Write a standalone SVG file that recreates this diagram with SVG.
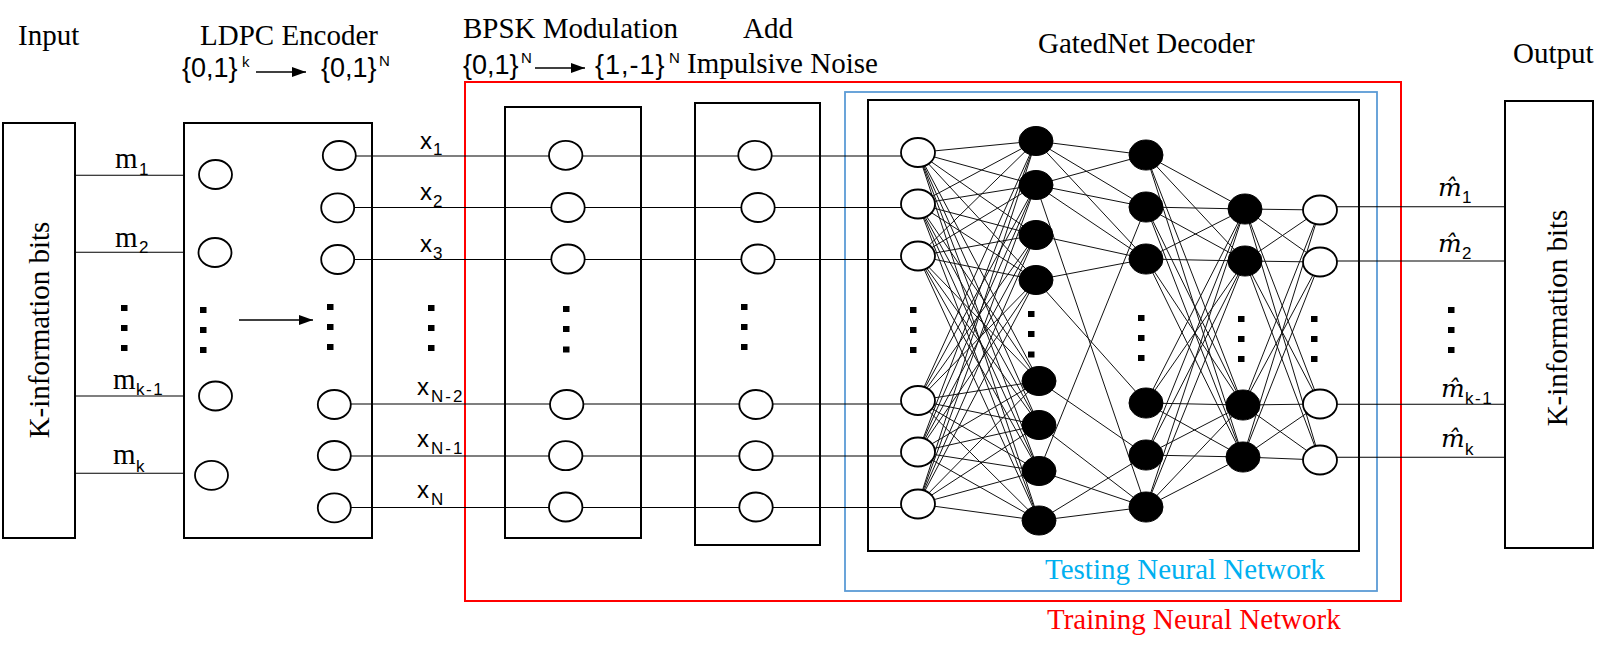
<svg xmlns="http://www.w3.org/2000/svg" width="1611" height="656" viewBox="0 0 1611 656">
<style>
.box{fill:none;stroke:#000;stroke-width:2}
.c{fill:#fff;stroke:#000;stroke-width:1.8}
.b{fill:#000;stroke:#000;stroke-width:1}
.ln{fill:none;stroke:#000;stroke-width:1.1}
.nn{fill:none;stroke:#111;stroke-width:1}
.dot{fill:#000}
.serif{font-family:"Liberation Serif","Times New Roman",serif;fill:#000}
.sans{font-family:"Liberation Sans",Arial,sans-serif;fill:#000}
.h{font-size:29px}
.sb{font-size:17px}
.hat{font-family:"DejaVu Serif","Liberation Serif",serif;font-style:italic;font-size:25px}
</style>
<defs>
<marker id="ah" markerWidth="14" markerHeight="10" refX="14" refY="5" orient="auto" markerUnits="userSpaceOnUse"><path d="M0,0L14,5L0,10Z" fill="#000"/></marker>
</defs>
<rect width="1611" height="656" fill="#fff"/>

<!-- region frames -->
<g id="training-region">
<rect x="465" y="82" width="936" height="519" fill="none" stroke="#FF0000" stroke-width="2"/>
<text class="serif" x="1047" y="629" font-size="29" style="fill:#FF0000">Training Neural Network</text>
</g>
<g id="testing-region">
<rect x="845" y="92" width="532" height="499" fill="none" stroke="#5B9BD5" stroke-width="1.8"/>
<text class="serif" x="1045" y="579" font-size="29" style="fill:#00B0F0">Testing Neural Network</text>
</g>

<!-- headers -->
<g id="headers">
<text class="serif h" x="18" y="45">Input</text>
<text class="serif h" x="200" y="45">LDPC Encoder</text>
<text class="sans" x="182" y="77" font-size="27">{0,1}</text>
<text class="sans" x="242" y="67" font-size="15">k</text>
<line x1="256" y1="72" x2="306" y2="72" stroke="#000" stroke-width="1.3" marker-end="url(#ah)"/>
<text class="sans" x="321" y="77" font-size="27">{0,1}</text>
<text class="sans" x="379" y="66" font-size="15">N</text>
<text class="serif h" x="463" y="38">BPSK Modulation</text>
<text class="serif h" x="743" y="38">Add</text>
<text class="sans" x="463" y="74" font-size="27">{0,1}</text>
<text class="sans" x="521" y="63" font-size="15">N</text>
<line x1="535" y1="68" x2="585" y2="68" stroke="#000" stroke-width="1.3" marker-end="url(#ah)"/>
<text class="sans" x="595" y="74" font-size="27" letter-spacing="1">{1,-1}</text>
<text class="sans" x="669" y="63" font-size="15">N</text>
<text class="serif h" x="687" y="73">Impulsive Noise</text>
<text class="serif h" x="1038" y="53">GatedNet Decoder</text>
<text class="serif h" x="1513" y="63">Output</text>
</g>

<!-- connectors -->
<g id="connectors">
<path class="ln" d="M75 175.3H184M75 252.3H184M75 396H184M75 473.3H184"/>
<path class="ln" d="M339 156H918M338 207.5H918M339 259.5H918M334 404H918M334 456H918M334 507.5H918"/>
<path class="ln" d="M1320 206.7H1505M1320 261H1505M1320 404.3H1505M1320 457.3H1505"/>
<line x1="239" y1="320" x2="313" y2="320" stroke="#000" stroke-width="1.3" marker-end="url(#ah)"/>
<path class="nn" d="
M918 152.5L1036 141M918 152.5L1036 185M918 152.5L1036 235M918 152.5L1036 280M918 152.5L1039 381M918 152.5L1039 425M918 152.5L1039 471M918 152.5L1039 520.5
M918 204L1036 141M918 204L1036 185M918 204L1036 235M918 204L1036 280M918 204L1039 381M918 204L1039 425M918 204L1039 471M918 204L1039 520.5
M918 256L1036 141M918 256L1036 185M918 256L1036 235M918 256L1036 280M918 256L1039 381M918 256L1039 425M918 256L1039 471M918 256L1039 520.5
M918 400.5L1036 141M918 400.5L1036 185M918 400.5L1036 235M918 400.5L1036 280M918 400.5L1039 381M918 400.5L1039 425M918 400.5L1039 471M918 400.5L1039 520.5
M918 452L1036 141M918 452L1036 185M918 452L1036 235M918 452L1036 280M918 452L1039 381M918 452L1039 425M918 452L1039 471M918 452L1039 520.5
M918 504L1036 141M918 504L1036 185M918 504L1036 235M918 504L1036 280M918 504L1039 381M918 504L1039 425M918 504L1039 471M918 504L1039 520.5
M1036 141L1146 155M1036 141L1146 207M1036 141L1146 259
M1036 185L1146 155M1036 185L1146 207M1036 185L1146 259M1036 185L1146 507
M1036 235L1146 259
M1036 280L1146 259M1036 280L1146 403
M1039 381L1146 455
M1039 425L1146 507
M1039 471L1146 207M1039 471L1146 507
M1039 520.5L1146 455M1039 520.5L1146 507
M1146 155L1245 209M1146 155L1245 261M1146 155L1243 405M1146 155L1243 457
M1146 207L1245 209M1146 207L1245 261M1146 207L1243 405M1146 207L1243 457
M1146 259L1245 209M1146 259L1245 261M1146 259L1243 405M1146 259L1243 457
M1146 403L1245 209M1146 403L1245 261M1146 403L1243 405M1146 403L1243 457
M1146 455L1245 209M1146 455L1245 261M1146 455L1243 405M1146 455L1243 457
M1146 507L1245 209M1146 507L1245 261M1146 507L1243 405M1146 507L1243 457
M1245 209L1320 210M1245 209L1320 262M1245 209L1320 404M1245 209L1320 460
M1245 261L1320 210M1245 261L1320 262M1245 261L1320 404M1245 261L1320 460
M1243 405L1320 210M1243 405L1320 262M1243 405L1320 404M1243 405L1320 460
M1243 457L1320 210M1243 457L1320 262M1243 457L1320 404M1243 457L1320 460"/>
</g>

<!-- input box -->
<g id="input-box">
<rect class="box" x="3" y="123" width="72" height="415"/>
<text class="serif h" font-family="Liberation Serif, serif" transform="translate(49,330) rotate(-90)" text-anchor="middle">K-information bits</text>
<text class="serif" x="115" y="168" font-size="29">m</text><text class="sans sb" x="139" y="175">1</text>
<text class="serif" x="115" y="246.5" font-size="29">m</text><text class="sans sb" x="139" y="253">2</text>
<rect class="dot" x="121" y="305" width="6.5" height="6"/>
<rect class="dot" x="121" y="325" width="6.5" height="6"/>
<rect class="dot" x="121" y="345" width="6.5" height="6"/>
<text class="serif" x="113" y="388.5" font-size="29">m</text><text class="sans sb" x="136" y="395" letter-spacing="1.5">k-1</text>
<text class="serif" x="113" y="464" font-size="29">m</text><text class="sans sb" x="136" y="471.5">k</text>
</g>

<!-- LDPC encoder -->
<g id="ldpc-encoder">
<rect class="box" x="184" y="123" width="188" height="415"/>
<ellipse class="c" cx="215.5" cy="174.5" rx="16.5" ry="14.5"/>
<ellipse class="c" cx="215" cy="252.5" rx="16.5" ry="14.5"/>
<ellipse class="c" cx="215.5" cy="396" rx="16.5" ry="14.5"/>
<ellipse class="c" cx="211.5" cy="475.3" rx="16.5" ry="14.5"/>
<rect class="dot" x="200" y="307" width="6.5" height="6"/>
<rect class="dot" x="200" y="327" width="6.5" height="6"/>
<rect class="dot" x="200" y="347" width="6.5" height="6"/>
<ellipse class="c" cx="339.3" cy="155.5" rx="16.5" ry="14.5"/>
<ellipse class="c" cx="337.7" cy="207.8" rx="16.5" ry="14.5"/>
<ellipse class="c" cx="337.7" cy="259.5" rx="16.5" ry="14.5"/>
<ellipse class="c" cx="334.3" cy="404.5" rx="16.5" ry="14.5"/>
<ellipse class="c" cx="334.3" cy="455.5" rx="16.5" ry="14.5"/>
<ellipse class="c" cx="334.3" cy="507.8" rx="16.5" ry="14.5"/>
<rect class="dot" x="327" y="304" width="6.5" height="6"/>
<rect class="dot" x="327" y="324" width="6.5" height="6"/>
<rect class="dot" x="327" y="344" width="6.5" height="6"/>
</g>

<!-- codeword labels -->
<g id="codeword-labels">
<text class="sans" x="420" y="148.5" font-size="24">x</text><text class="sans sb" x="433" y="155">1</text>
<text class="sans" x="420" y="200" font-size="24">x</text><text class="sans sb" x="433" y="207">2</text>
<text class="sans" x="420" y="251.5" font-size="24">x</text><text class="sans sb" x="433" y="258.5">3</text>
<rect class="dot" x="428" y="305" width="6.5" height="6"/>
<rect class="dot" x="428" y="325" width="6.5" height="6"/>
<rect class="dot" x="428" y="345" width="6.5" height="6"/>
<text class="sans" x="417" y="395" font-size="24">x</text><text class="sans sb" x="431" y="402" letter-spacing="2">N-2</text>
<text class="sans" x="417" y="447" font-size="24">x</text><text class="sans sb" x="431" y="454" letter-spacing="2">N-1</text>
<text class="sans" x="417" y="498" font-size="24">x</text><text class="sans sb" x="431" y="505">N</text>
</g>

<!-- BPSK modulation -->
<g id="bpsk-modulation">
<rect class="box" x="505" y="107" width="136" height="431"/>
<ellipse class="c" cx="565.7" cy="155.3" rx="16.7" ry="14.5"/>
<ellipse class="c" cx="568" cy="207.5" rx="16.7" ry="14.5"/>
<ellipse class="c" cx="568" cy="259" rx="16.7" ry="14.5"/>
<ellipse class="c" cx="566.7" cy="404.5" rx="16.7" ry="14.5"/>
<ellipse class="c" cx="565.7" cy="455.7" rx="16.7" ry="14.5"/>
<ellipse class="c" cx="565.7" cy="507" rx="16.7" ry="14.5"/>
<rect class="dot" x="563" y="306" width="6.5" height="6"/>
<rect class="dot" x="563" y="326" width="6.5" height="6"/>
<rect class="dot" x="563" y="346.5" width="6.5" height="6"/>
</g>

<!-- Add impulsive noise -->
<g id="add-noise">
<rect class="box" x="695" y="103" width="125" height="442"/>
<ellipse class="c" cx="755" cy="155.3" rx="16.7" ry="14.5"/>
<ellipse class="c" cx="758" cy="207.5" rx="16.7" ry="14.5"/>
<ellipse class="c" cx="758" cy="259" rx="16.7" ry="14.5"/>
<ellipse class="c" cx="756" cy="404.5" rx="16.7" ry="14.5"/>
<ellipse class="c" cx="756" cy="455.7" rx="16.7" ry="14.5"/>
<ellipse class="c" cx="756" cy="507" rx="16.7" ry="14.5"/>
<rect class="dot" x="741" y="304" width="6.5" height="6"/>
<rect class="dot" x="741" y="324" width="6.5" height="6"/>
<rect class="dot" x="741" y="344" width="6.5" height="6"/>
</g>

<!-- GatedNet decoder -->
<g id="gatednet-decoder">
<rect class="box" x="868" y="100" width="491" height="451"/>
<g id="layer1">
<ellipse class="c" cx="918" cy="152.5" rx="17" ry="14.5"/>
<ellipse class="c" cx="918" cy="204" rx="17" ry="14.5"/>
<ellipse class="c" cx="918" cy="256" rx="17" ry="14.5"/>
<ellipse class="c" cx="918" cy="400.5" rx="17" ry="14.5"/>
<ellipse class="c" cx="918" cy="452" rx="17" ry="14.5"/>
<ellipse class="c" cx="918" cy="504" rx="17" ry="14.5"/>
<rect class="dot" x="910" y="307" width="6.5" height="6"/>
<rect class="dot" x="910" y="327" width="6.5" height="6"/>
<rect class="dot" x="910" y="347" width="6.5" height="6"/>
</g>
<g id="layer2">
<ellipse class="b" cx="1036" cy="141" rx="17" ry="14.5"/>
<ellipse class="b" cx="1036" cy="185" rx="17" ry="14.5"/>
<ellipse class="b" cx="1036" cy="235" rx="17" ry="14.5"/>
<ellipse class="b" cx="1036" cy="280" rx="17" ry="14.5"/>
<ellipse class="b" cx="1039" cy="381" rx="17" ry="14.5"/>
<ellipse class="b" cx="1039" cy="425" rx="17" ry="14.5"/>
<ellipse class="b" cx="1039" cy="471" rx="17" ry="14.5"/>
<ellipse class="b" cx="1039" cy="520.5" rx="17" ry="14.5"/>
<rect class="dot" x="1028" y="311" width="6.5" height="6"/>
<rect class="dot" x="1028" y="331" width="6.5" height="6"/>
<rect class="dot" x="1028" y="351.5" width="6.5" height="6"/>
</g>
<g id="layer3">
<ellipse class="b" cx="1146" cy="155" rx="17" ry="15"/>
<ellipse class="b" cx="1146" cy="207" rx="17" ry="15"/>
<ellipse class="b" cx="1146" cy="259" rx="17" ry="15"/>
<ellipse class="b" cx="1146" cy="403" rx="17" ry="15"/>
<ellipse class="b" cx="1146" cy="455" rx="17" ry="15"/>
<ellipse class="b" cx="1146" cy="507" rx="17" ry="15"/>
<rect class="dot" x="1138" y="315" width="6.5" height="6"/>
<rect class="dot" x="1138" y="335" width="6.5" height="6"/>
<rect class="dot" x="1138" y="355" width="6.5" height="6"/>
</g>
<g id="layer4">
<ellipse class="b" cx="1245" cy="209" rx="17" ry="15"/>
<ellipse class="b" cx="1245" cy="261" rx="17" ry="15"/>
<ellipse class="b" cx="1243" cy="405" rx="17" ry="15"/>
<ellipse class="b" cx="1243" cy="457" rx="17" ry="15"/>
<rect class="dot" x="1238" y="316" width="6.5" height="6"/>
<rect class="dot" x="1238" y="336" width="6.5" height="6"/>
<rect class="dot" x="1238" y="356" width="6.5" height="6"/>
</g>
<g id="layer5">
<ellipse class="c" cx="1320" cy="210" rx="17" ry="14.5"/>
<ellipse class="c" cx="1320" cy="262" rx="17" ry="14.5"/>
<ellipse class="c" cx="1320" cy="404" rx="17" ry="14.5"/>
<ellipse class="c" cx="1320" cy="460" rx="17" ry="14.5"/>
<rect class="dot" x="1311" y="316" width="6.5" height="6"/>
<rect class="dot" x="1311" y="336" width="6.5" height="6"/>
<rect class="dot" x="1311" y="356" width="6.5" height="6"/>
</g>
</g>

<!-- estimated bits labels -->
<g id="estimate-labels">
<text class="hat" x="1438" y="196">m̂</text><text class="sans sb" x="1462" y="203">1</text>
<text class="hat" x="1438" y="252">m̂</text><text class="sans sb" x="1462" y="259">2</text>
<rect class="dot" x="1448" y="307" width="6.5" height="6"/>
<rect class="dot" x="1448" y="327" width="6.5" height="6"/>
<rect class="dot" x="1448" y="347" width="6.5" height="6"/>
<text class="hat" x="1441" y="397">m̂</text><text class="sans sb" x="1465" y="404" letter-spacing="1.5">k-1</text>
<text class="hat" x="1441" y="447">m̂</text><text class="sans sb" x="1465" y="455">k</text>
</g>

<!-- output box -->
<g id="output-box">
<rect class="box" x="1505" y="101" width="88" height="447"/>
<text class="serif h" font-family="Liberation Serif, serif" transform="translate(1567,318) rotate(-90)" text-anchor="middle">K-information bits</text>
</g>
</svg>
